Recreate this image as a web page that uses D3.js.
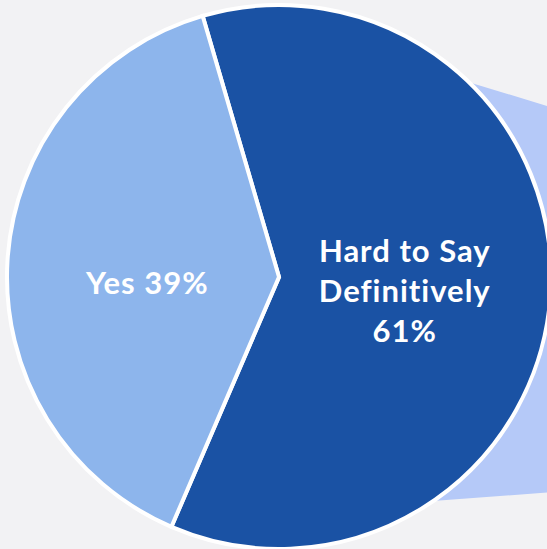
<!DOCTYPE html>
<html>
<head>
<meta charset="utf-8">
<script src="https://cdn.jsdelivr.net/npm/d3@7"></script>
<style>
html,body{margin:0;padding:0;background:#f2f2f4;}
svg{display:block;}
</style>
</head>
<body>
<svg id="chart" width="547" height="549"></svg>
<script>
const categories = ["Hard to Say Definitively", "Yes"];
const values = [61, 39];
const labelLines = [["Hard to Say", "Definitively", "61%"], ["Yes 39%"]];
const colors = ["#1a52a4", "#8db5ec"];

const W = 547, H = 549;
const cx = 279, cy = 277, R = 272;
const svg = d3.select("#chart");

// connector band to secondary chart (mostly off-canvas, behind pie)
svg.append("path")
  .attr("d", d3.line()([[cx + 120, 61], [W + 20, 112], [W + 20, 491], [cx + 100, 505]]))
  .attr("fill", "#b5c9f8");

const pie = d3.pie().sort(null).value(d => d)
  .startAngle(-16.3 * Math.PI / 180)
  .endAngle(-16.3 * Math.PI / 180 + 2 * Math.PI);
const arcs = pie(values);
const arc = d3.arc().innerRadius(0).outerRadius(R);
const g = svg.append("g").attr("transform", `translate(${cx},${cy})`);

g.selectAll("path.slice").data(arcs).enter().append("path")
  .attr("class", "slice")
  .attr("d", arc)
  .attr("fill", (d, i) => colors[i])
  .attr("stroke", "#ffffff")
  .attr("stroke-width", 4)
  .attr("stroke-linejoin", "miter");

const labelRadii = [126, 132];
const lineH = 40;
arcs.forEach((d, i) => {
  const la = d3.arc().innerRadius(labelRadii[i]).outerRadius(labelRadii[i]);
  const [x, y] = la.centroid(d);
  const lines = labelLines[i];
  const t = g.append("text")
    .attr("text-anchor", "middle")
    .attr("fill", "#ffffff")
    .attr("font-family", "Lato, 'Noto Sans', sans-serif")
    .attr("font-weight", "bold")
    .attr("font-size", 31)
    .attr("letter-spacing", 1);
  const y0 = (i === 0 ? y + 6 : y + 14) - (lines.length - 1) * lineH / 2;
  lines.forEach((ln, j) => {
    t.append("tspan").attr("x", x).attr("y", y0 + j * lineH).attr("dy", "0.35em").text(ln);
  });
});
</script>
</body>
</html>
